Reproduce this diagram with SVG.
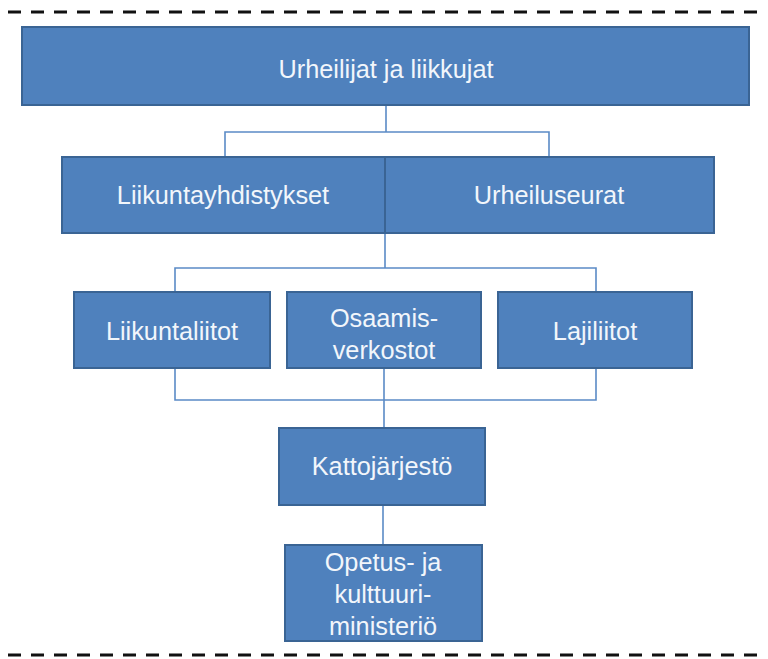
<svg xmlns="http://www.w3.org/2000/svg" width="768" height="659" viewBox="0 0 768 659">
<style>
.box{fill:#4F81BD;stroke:#3A6494;stroke-width:2}
.t{font-family:"Liberation Sans",Arial,sans-serif;font-size:25.3px;fill:#F2F6FB;text-anchor:middle;dominant-baseline:central}
.c{fill:none;stroke:#5B8BC6;stroke-width:1.6}
.dash{stroke:#111;stroke-width:3;stroke-dasharray:13 10}
</style>
<rect width="768" height="659" fill="#fff"/>
<line class="dash" x1="8" y1="12" x2="762" y2="12"/>
<line class="dash" x1="8" y1="655" x2="762" y2="655"/>
<g id="connectors">
<path class="c" d="M386 105V132M225 157V132H549V157"/>
<path class="c" d="M385 233V268M175 292V268H596V292"/>
<path class="c" d="M175 368V400H596V368M384 368V428"/>
<path class="c" d="M383 505V545"/>
</g>
<g id="urheilijat"><rect class="box" x="22" y="27" width="727" height="78"/><text class="t" x="386" y="69">Urheilijat ja liikkujat</text></g>
<g id="liikuntayhdistykset"><rect class="box" x="62" y="157" width="323" height="76"/><text class="t" x="223" y="195">Liikuntayhdistykset</text></g>
<g id="urheiluseurat"><rect class="box" x="385" y="157" width="329" height="76"/><text class="t" x="549" y="195">Urheiluseurat</text></g>
<g id="liikuntaliitot"><rect class="box" x="74" y="292" width="196" height="76"/><text class="t" x="172" y="331">Liikuntaliitot</text></g>
<g id="osaamisverkostot"><rect class="box" x="287" y="292" width="194" height="76"/><text class="t" x="384" y="318">Osaamis-</text><text class="t" x="384" y="350">verkostot</text></g>
<g id="lajiliitot"><rect class="box" x="498" y="292" width="194" height="76"/><text class="t" x="595" y="331">Lajiliitot</text></g>
<g id="kattojarjesto"><rect class="box" x="279" y="428" width="206" height="77"/><text class="t" x="382" y="466">Kattojärjestö</text></g>
<g id="okm"><rect class="box" x="285" y="545" width="197" height="96"/><text class="t" x="383" y="562">Opetus- ja</text><text class="t" x="383" y="594">kulttuuri-</text><text class="t" x="383" y="626">ministeriö</text></g>
</svg>
